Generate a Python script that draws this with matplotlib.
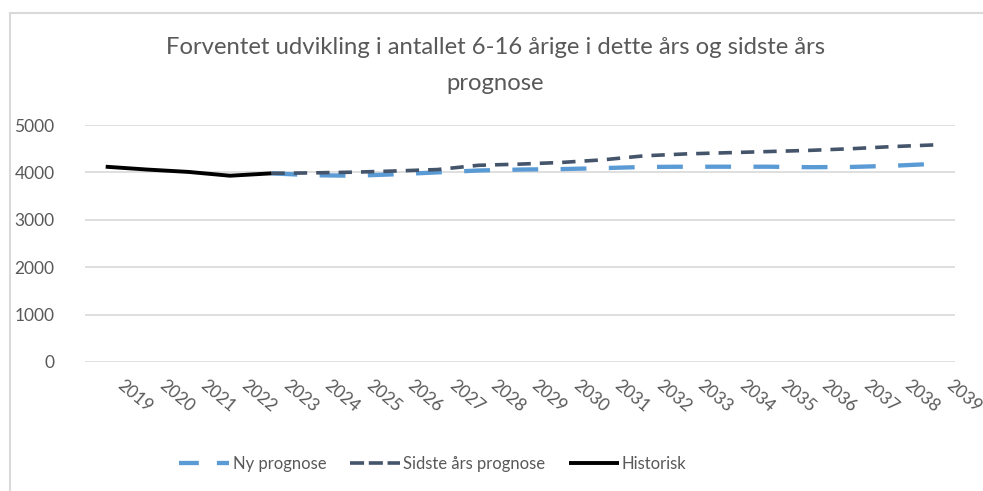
import matplotlib
matplotlib.use('Agg')
import matplotlib.pyplot as plt
import matplotlib.transforms as mtrans
from matplotlib.lines import Line2D

# data
years = [str(y) for y in range(2019, 2040)]
hist_years = years[0:5]
historisk = [4120, 4060, 4010, 3930, 3980]
prog_years = years[4:]
ny_prognose = [3980, 3940, 3930, 3960, 4000, 4040, 4060, 4070, 4090, 4115,
               4120, 4120, 4120, 4110, 4115, 4140, 4180]
sidste_prognose = [3980, 3990, 4005, 4030, 4060, 4150, 4175, 4210, 4265, 4350,
                   4390, 4415, 4440, 4465, 4500, 4545, 4580]

plt.rcParams['font.family'] = ['Lato', 'DejaVu Sans']
txt_color = '#595959'
grid_color = '#d9d9d9'
ny_color = '#5b9bd5'
sd_color = '#44546a'

W, H = 983, 491
fig = plt.figure(figsize=(W / 100, H / 100), dpi=100)
ax = fig.add_axes([85 / W, 1 - 362 / H, (955 - 85) / W, (362 - 125) / H])

x_all = list(range(len(years)))
xh = [years.index(y) for y in hist_years]
xp = [years.index(y) for y in prog_years]

ny_line, = ax.plot(xp, ny_prognose, color=ny_color, lw=3.1, dash_capstyle='butt')
ny_line.set_dashes((6.0, 5.2))
sd_line, = ax.plot(xp, sidste_prognose, color=sd_color, lw=2.6, dash_capstyle='butt')
sd_line.set_dashes((3.7, 2.5))
hs_line, = ax.plot(xh, historisk, color='black', lw=2.8, solid_capstyle='butt')

ax.set_xlim(-0.5, len(years) - 0.5)
ax.set_ylim(0, 5000)
ax.set_yticks(range(0, 5001, 1000))
ax.yaxis.grid(True, color=grid_color, lw=1.2)
ax.set_axisbelow(True)
for s in ax.spines.values():
    s.set_visible(False)
ax.tick_params(axis='y', length=0, pad=22, labelsize=12.5, labelcolor=txt_color)
ax.tick_params(axis='x', length=0, pad=11, labelsize=12.5, labelcolor=txt_color)
ax.set_xticks(x_all)
ax.set_xticklabels(years, rotation=-40, ha='left', va='top', rotation_mode='anchor')
shift = mtrans.ScaledTranslation(19 / 100, 0, fig.dpi_scale_trans)
for lab in ax.get_xticklabels():
    lab.set_transform(lab.get_transform() + shift)

fig.text(495 / W, 1 - 47 / H, 'Forventet udvikling i antallet 6-16 årige i dette års og sidste års',
         ha='center', va='center', fontsize=17.2, color=txt_color)
fig.text(495 / W, 1 - 83 / H, 'prognose',
         ha='center', va='center', fontsize=17.2, color=txt_color)

# legend proxies with dash patterns that fit the short handle
ny_h = Line2D([], [], color=ny_color, lw=3.1, dash_capstyle='butt', dashes=(4.6, 4.2))
sd_h = Line2D([], [], color=sd_color, lw=2.6, dash_capstyle='butt', dashes=(3.9, 1.3))
hs_h = Line2D([], [], color='black', lw=2.8, solid_capstyle='butt')
leg = fig.legend(handles=[ny_h, sd_h, hs_h],
                 labels=['Ny prognose', 'Sidste års prognose', 'Historisk'],
                 loc='center', bbox_to_anchor=(433 / W, 1 - 464 / H), ncol=3, frameon=False,
                 fontsize=12, handlelength=3.0, handletextpad=0.2, columnspacing=1.4,
                 labelcolor=txt_color)

# chart area border (only left and top visible in the crop)
fig.add_artist(Line2D([10 / W, 10 / W], [0, 1 - 13 / H], transform=fig.transFigure,
                      color=grid_color, lw=1.5))
fig.add_artist(Line2D([10 / W, 1], [1 - 13 / H, 1 - 13 / H], transform=fig.transFigure,
                      color=grid_color, lw=1.5))

fig.savefig('out.png', dpi=100)
